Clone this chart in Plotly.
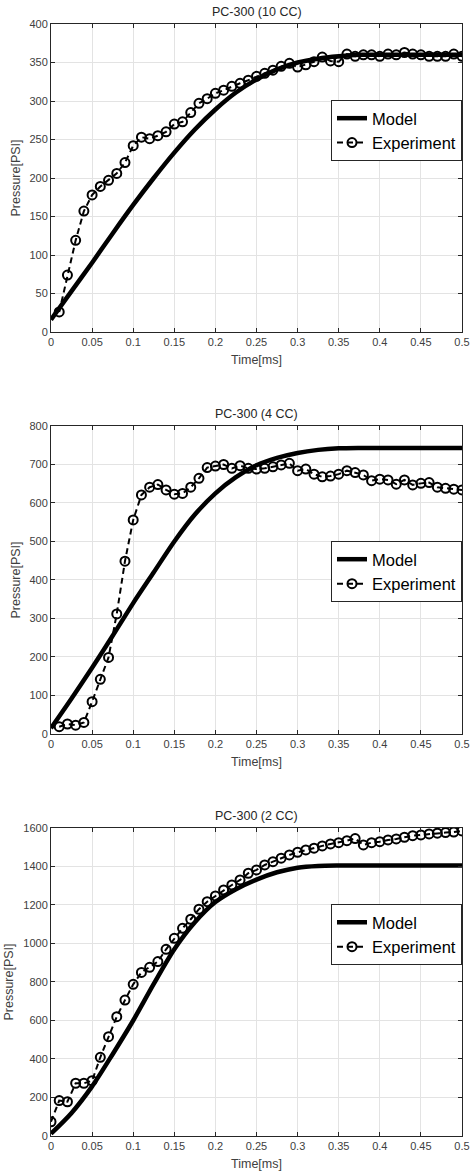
import plotly.graph_objects as go

# ---------------- data ----------------
exp_time = [0.01, 0.02, 0.03, 0.04, 0.05, 0.06, 0.07, 0.08, 0.09, 0.10,
            0.11, 0.12, 0.13, 0.14, 0.15, 0.16, 0.17, 0.18, 0.19, 0.20,
            0.21, 0.22, 0.23, 0.24, 0.25, 0.26, 0.27, 0.28, 0.29, 0.30,
            0.31, 0.32, 0.33, 0.34, 0.35, 0.36, 0.37, 0.38, 0.39, 0.40,
            0.41, 0.42, 0.43, 0.44, 0.45, 0.46, 0.47, 0.48, 0.49, 0.50]
exp_time_2cc = [0.00] + exp_time

model_time = [0.000, 0.025, 0.050, 0.075, 0.100, 0.125, 0.150, 0.175, 0.200, 0.225,
              0.250, 0.275, 0.300, 0.325, 0.350, 0.375, 0.400, 0.425, 0.450, 0.475, 0.500]

# PC-300 (10 CC)
exp_10cc = [26, 74, 119, 157, 178, 189, 197, 206, 220, 242,
            253, 251, 255, 260, 270, 273, 285, 297, 303, 310,
            314, 319, 323, 327, 332, 336, 340, 345, 349, 344,
            347, 351, 357, 352, 351, 361, 358, 360, 360, 358,
            361, 360, 363, 361, 360, 358, 358, 358, 361, 358]
model_10cc = [16, 53, 90, 128, 165, 200, 233, 263, 289, 311,
              328, 341, 350, 355, 358, 360, 360, 360, 360, 360, 360]

# PC-300 (4 CC)
exp_4cc = [19, 26, 23, 30, 84, 142, 199, 312, 449, 556,
           621, 641, 648, 634, 623, 625, 641, 664, 692, 696,
           700, 690, 697, 690, 688, 690, 694, 699, 703, 684,
           688, 675, 668, 670, 675, 684, 679, 673, 658, 662,
           660, 649, 660, 647, 651, 653, 641, 638, 636, 634]
model_4cc = [15, 92, 172, 255, 340, 420, 500, 570, 625, 667,
             698, 717, 730, 738, 742, 743, 743, 743, 743, 743, 743]

# PC-300 (2 CC)
exp_2cc = [74, 184, 178, 274, 274, 287, 409, 516, 620, 706, 788,
           850, 876, 906, 970, 1027, 1079, 1126, 1178, 1217, 1247,
           1278, 1304, 1330, 1365, 1382, 1408, 1425, 1443, 1460, 1474,
           1486, 1495, 1507, 1517, 1524, 1534, 1545, 1512, 1524, 1529,
           1538, 1543, 1552, 1560, 1564, 1569, 1573, 1576, 1579, 1585]
model_2cc = [12, 120, 258, 425, 600, 790, 970, 1110, 1215, 1282,
             1332, 1370, 1394, 1403, 1405, 1405, 1405, 1405, 1405, 1405, 1405]

titles = ["PC-300 (10 CC)", "PC-300 (4 CC)", "PC-300 (2 CC)"]
x_tickvals = [0, 0.05, 0.1, 0.15, 0.2, 0.25, 0.3, 0.35, 0.4, 0.45, 0.5]
x_ticktext = ["0", "0.05", "0.1", "0.15", "0.2", "0.25", "0.3", "0.35", "0.4", "0.45", "0.5"]
y_ranges = [[0, 400], [0, 800], [0, 1600]]
y_dticks = [50, 100, 200]

# ---------------- figure ----------------
FONT = "Liberation Sans, Arial, Helvetica, sans-serif"
TXT = "#262626"
TICK = "#404040"
GRID = "#e3e3e3"

fig = go.Figure()

panels = [
    (exp_time, exp_10cc, model_10cc),
    (exp_time, exp_4cc, model_4cc),
    (exp_time_2cc, exp_2cc, model_2cc),
]
legend_names = ["legend", "legend2", "legend3"]
domains = [[0.72302, 1.0], [0.36151, 0.63849], [0.0, 0.27698]]
legend_pos = [(1.0, 0.9317), (1.0, 0.5351), (1.0, 0.2086)]

for i, (et, ev, mv) in enumerate(panels):
    n = "" if i == 0 else str(i + 1)
    fig.add_trace(go.Scatter(
        x=model_time, y=mv, mode="lines", name="Model",
        line=dict(color="black", width=4.5, shape="spline", smoothing=0.8),
        xaxis="x" + n, yaxis="y" + n, legend=legend_names[i],
    ))
    fig.add_trace(go.Scatter(
        x=et, y=ev, mode="lines+markers", name="Experiment",
        line=dict(color="black", width=2, dash="6px,4px"),
        marker=dict(symbol="circle-open", size=9, color="black",
                    line=dict(width=2, color="black")),
        xaxis="x" + n, yaxis="y" + n, legend=legend_names[i],
    ))

layout = dict(
    width=470, height=1173,
    margin=dict(l=51, r=8, t=24, b=37),
    paper_bgcolor="white", plot_bgcolor="white",
    font=dict(family=FONT, color=TXT),
    showlegend=True,
    annotations=[],
)

for i in range(3):
    n = "" if i == 0 else str(i + 1)
    layout["xaxis" + n] = dict(
        domain=[0, 1], anchor="y" + n, range=[0, 0.5],
        tickvals=x_tickvals, ticktext=x_ticktext,
        showgrid=True, gridcolor=GRID, gridwidth=1,
        showline=True, linecolor=TXT, linewidth=1, mirror="ticks",
        ticks="inside", ticklen=4, tickcolor=TXT,
        tickfont=dict(size=11, color=TICK, family=FONT),
        title=dict(text="Time[ms]", font=dict(size=12.5, color=TICK, family=FONT), standoff=8),
        zeroline=False, automargin=False, fixedrange=True,
    )
    layout["yaxis" + n] = dict(
        domain=domains[i], anchor="x" + n, range=y_ranges[i],
        dtick=y_dticks[i], tick0=0,
        showgrid=True, gridcolor=GRID, gridwidth=1,
        showline=True, linecolor=TXT, linewidth=1, mirror="ticks",
        ticks="inside", ticklen=4, tickcolor=TXT,
        tickfont=dict(size=11, color=TICK, family=FONT),
        title=dict(text="Pressure[PSI]", font=dict(size=12.5, color=TICK, family=FONT), standoff=6),
        zeroline=False, automargin=False, fixedrange=True,
    )
    lx, ly = legend_pos[i]
    layout[legend_names[i]] = dict(
        x=lx, y=ly, xanchor="right", yanchor="top",
        xref="paper", yref="paper",
        bgcolor="white", bordercolor=TXT, borderwidth=1,
        font=dict(size=16.5, color="black", family=FONT),
        tracegroupgap=0, itemwidth=30,
    )
    layout["annotations"].append(dict(
        text=titles[i], x=0.5, xref="x" + n + " domain",
        y=1, yref="y" + n + " domain", yanchor="bottom", yshift=3,
        showarrow=False, font=dict(size=12.5, color=TXT, family=FONT),
    ))

fig.update_layout(**layout)
fig.write_html(
    "out.html",
    config={"displayModeBar": False},
    post_script="document.body.style.margin='0';document.body.style.padding='0';"
                "document.documentElement.style.overflow='hidden';",
)
